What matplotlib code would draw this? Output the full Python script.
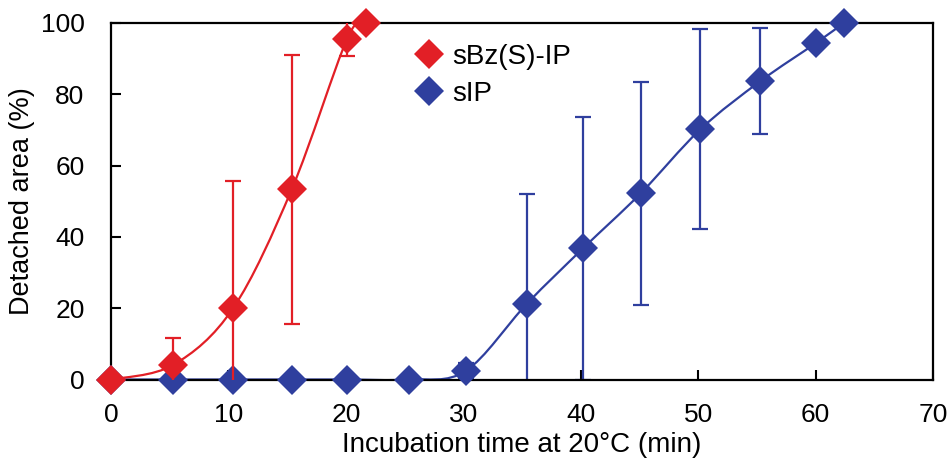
import numpy as np
import matplotlib
matplotlib.use("Agg")
import matplotlib.pyplot as plt
from matplotlib.path import Path
from matplotlib.patches import PathPatch
from matplotlib.lines import Line2D

plt.rcParams['font.family'] = ['Liberation Sans', 'DejaVu Sans']

# ---- data ----
red_label = "sBz(S)-IP"
red_x = [0, 5.3, 10.4, 15.4, 20.1, 21.7]
red_y = [0, 4.1, 20.0, 53.4, 95.5, 100]
red_err = [0, 7.6, 35.7, 37.7, 4.8, 0]

blue_label = "sIP"
blue_x = [0, 5.3, 10.4, 15.4, 20.1, 25.4, 30.2, 35.4, 40.2, 45.1, 50.2, 55.3, 60.0, 62.4]
blue_y = [0, 0, 0, 0, 0, 0, 2.4, 21.2, 36.8, 52.2, 70.2, 83.7, 94.3, 100]
blue_err = [0, 0, 0, 0, 0, 0, 2.3, 30.8, 36.9, 31.3, 28.1, 14.8, 0, 0]

xticks = [0, 10, 20, 30, 40, 50, 60, 70]
yticks = [0, 20, 40, 60, 80, 100]
xlabel = "Incubation time at 20\u00b0C (min)"
ylabel = "Detached area (%)"

RED = '#E21F26'
BLUE = '#2F3F9E'


def smooth_path(xs, ys):
    pts = np.column_stack([xs, ys]).astype(float)
    n = len(pts)
    verts = [pts[0]]
    codes = [Path.MOVETO]
    for i in range(n - 1):
        p0 = pts[i - 1] if i > 0 else pts[i]
        p1 = pts[i]
        p2 = pts[i + 1]
        p3 = pts[i + 2] if i + 2 < n else pts[i + 1]
        c1 = p1 + (p2 - p0) / 6.0
        c2 = p2 - (p3 - p1) / 6.0
        verts += [c1, c2, p2]
        codes += [Path.CURVE4] * 3
    return Path(verts, codes)


fig = plt.figure(figsize=(9.52, 4.59), dpi=100)
ax = fig.add_axes([111 / 952, 1 - 379.5 / 459, (933 - 111) / 952, (379.5 - 23) / 459])
ax.set_xlim(0, 70)
ax.set_ylim(0, 100)

for xs, ys, es, col, z in [(blue_x, blue_y, blue_err, BLUE, 2), (red_x, red_y, red_err, RED, 5)]:
    xs_e = [x for x, e in zip(xs, es) if e > 0]
    ys_e = [y for y, e in zip(ys, es) if e > 0]
    ee = [e for e in es if e > 0]
    ax.errorbar(xs_e, ys_e, yerr=ee, fmt='none', ecolor=col, elinewidth=1.6,
                capsize=5.5, capthick=1.6, zorder=z)
    ax.add_patch(PathPatch(smooth_path(xs, ys), facecolor='none', edgecolor=col,
                           lw=1.6, zorder=z + 0.5))
    ax.plot(xs, ys, linestyle='none', marker='D', markersize=15.5, color=col,
            markeredgewidth=0, clip_on=False, zorder=z + 1)

ax.set_xticks(xticks)
ax.set_yticks(yticks)
ax.tick_params(direction='in', length=7, width=1.5, labelsize=19, colors='black')
ax.tick_params(axis='y', pad=19)
ax.tick_params(axis='x', pad=17)
for s in ax.spines.values():
    s.set_linewidth(1.6)
    s.set_color('black')

ax.set_xlabel(xlabel, fontsize=20, labelpad=3.5)
ax.set_ylabel(ylabel, fontsize=19.5, labelpad=4)

handles = [Line2D([], [], linestyle='none', marker='D', markersize=15.5, color=RED, markeredgewidth=0),
           Line2D([], [], linestyle='none', marker='D', markersize=15.5, color=BLUE, markeredgewidth=0)]
fig.legend(handles, [red_label, blue_label], loc='upper left',
           bbox_to_anchor=(417 / 952, 1 - 44 / 459), frameon=False, fontsize=20,
           handlelength=0.85, handletextpad=0.4, borderpad=0, borderaxespad=0,
           labelspacing=0.38, numpoints=1)

fig.savefig('out.png', dpi=100)
